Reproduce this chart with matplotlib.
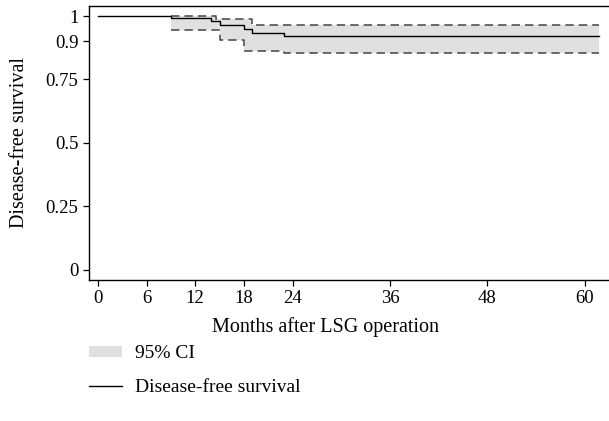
import matplotlib.pyplot as plt
from matplotlib.lines import Line2D
from matplotlib.patches import Patch

plt.rcParams["font.family"] = ["Liberation Serif", "DejaVu Serif"]
plt.rcParams["font.size"] = 14

# Kaplan-Meier estimate
km_months = [0, 9, 14, 15, 18, 19, 23, 61.8]
km_surv = [1.0, 0.992, 0.981, 0.966, 0.948, 0.935, 0.921, 0.921]

# 95% CI bounds on a shared step grid
ci_months = [9, 14.6, 15, 18, 19, 23, 61.8]
ci_upper = [1.0, 0.987, 0.987, 0.987, 0.964, 0.964, 0.964]
ci_lower = [0.946, 0.946, 0.904, 0.864, 0.864, 0.855, 0.855]

x_ticks = [0, 6, 12, 18, 24, 36, 48, 60]
y_ticks = [0, 0.25, 0.5, 0.75, 0.9, 1]
y_ticklabels = ["0", "0.25", "0.5", "0.75", "0.9", "1"]

fig = plt.figure(figsize=(6.09, 4.21), dpi=100)
ax = fig.add_axes([0.146, 0.335, 0.854, 0.651])

ax.fill_between(ci_months, ci_lower, ci_upper, step="post",
                color="#e0e0e0", linewidth=0)
ax.step(ci_months, ci_upper, where="post", color="#444444",
        linestyle=(0, (5.5, 3.3)), linewidth=1.1)
ax.step(ci_months, ci_lower, where="post", color="#444444",
        linestyle=(0, (5.5, 3.3)), linewidth=1.1)
ax.step(km_months, km_surv, where="post", color="black", linewidth=1.0)

ax.set_xlim(-1.1, 63)
ax.set_ylim(-0.04, 1.04)
ax.set_xticks(x_ticks)
ax.set_yticks(y_ticks)
ax.set_yticklabels(y_ticklabels)
ax.spines["right"].set_visible(False)
for side in ["left", "bottom", "top"]:
    ax.spines[side].set_linewidth(1.0)
ax.tick_params(length=4, width=0.9, labelsize=13.5)

ax.set_xlabel("Months after LSG operation", fontsize=14.5, labelpad=7, x=0.454)
ax.set_ylabel("Disease-free survival", fontsize=14.5, labelpad=12)

handles = [
    Patch(facecolor="#e0e0e0", edgecolor="none", label="95% CI"),
    Line2D([0], [0], color="black", linewidth=1.0, label="Disease-free survival"),
]
fig.legend(handles=handles, loc="upper left", bbox_to_anchor=(0.13, 0.203),
           frameon=False, borderpad=0, handlelength=1.7, handleheight=0.5,
           handletextpad=0.67, labelspacing=0.85, fontsize=14)

fig.savefig("out.png")
